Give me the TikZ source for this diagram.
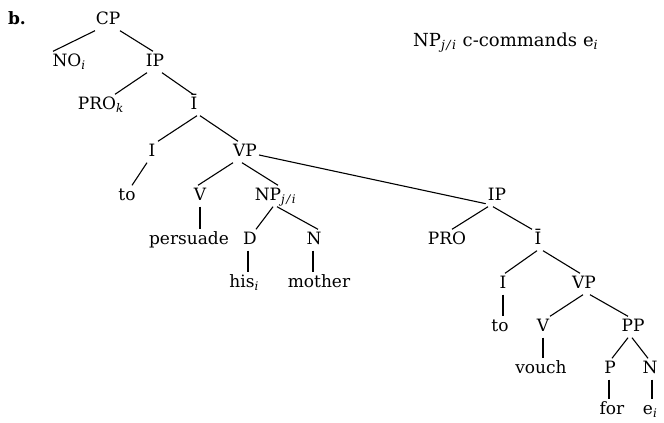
\documentclass[tikz,border=0pt]{standalone}
\usepackage{fontspec}
\setmainfont{DejaVu Serif}
\newcommand\branch[4]{\draw[br] ([xshift=#2pt]#1.south) -- ([xshift=#4pt]#3.north);}
\newcommand\sbs[1]{\textsubscript{\textit{#1}}}
\newcommand\ji{\sbs{j\hspace{1.5pt}/\hspace{1.5pt}i}}
\begin{document}
\begin{tikzpicture}[x=1pt,y=-1pt,
  tn/.style={inner sep=2pt,text height=13pt,text depth=4pt,font=\fontsize{17}{20}\selectfont},
  br/.style={line width=1.1pt}]
\useasboundingbox (0,0) rectangle (664,423);
\node[tn,font=\fontsize{17}{20}\selectfont\bfseries] (lab) at (17,20) {b.};
\node[tn,anchor=west,font=\fontsize{18}{21}\selectfont] (title) at (411,42) {NP\ji\hspace{6pt}c-commands\hspace{6pt}e\sbs{i}};
% left tree
\node[tn] (cp) at (108,20) {CP};
\node[tn] (no) at (67,62) {NO\rlap{\sbs{i}}};
\node[tn] (ip) at (155,62) {IP};
\node[tn] (prok) at (97,105) {PRO\rlap{\sbs{k}}};
\node[tn] (ibar) at (194,105) {\=I};
\node[tn] (i1) at (152,152) {I};
\node[tn] (vp) at (245,152) {VP};
\node[tn] (to1) at (127,196) {to};
\node[tn] (v1) at (200,196) {V};
\node[tn] (np) at (268,196) {NP\rlap{\ji}};
\node[tn] (persuade) at (189,240) {persuade};
\node[tn] (d) at (250,240) {D};
\node[tn] (n1) at (314,240) {N};
\node[tn] (his) at (242,283) {his\rlap{\sbs{i}}};
\node[tn] (mother) at (319,283) {mother};
% right tree
\node[tn] (ip2) at (497,196) {IP};
\node[tn] (pro) at (447,240) {PRO};
\node[tn] (ibar2) at (538,240) {\=I};
\node[tn] (i2) at (503,284) {I};
\node[tn] (vp2) at (584,284) {VP};
\node[tn] (to2) at (500,327) {to};
\node[tn] (v2) at (543,327) {V};
\node[tn] (pp) at (633,327) {PP};
\node[tn] (vouch) at (541,369) {vouch};
\node[tn] (p) at (610,369) {P};
\node[tn] (n2) at (650,369) {N};
\node[tn] (forw) at (612,410) {for};
\node[tn] (e) at (648,410) {e\rlap{\sbs{i}}};
% branches left
\branch{cp}{-13}{no}{-14}
\branch{cp}{12}{ip}{-2}
\branch{ip}{-8}{prok}{18}
\branch{ip}{7}{ibar}{-1}
\branch{ibar}{3}{i1}{6}
\branch{ibar}{6}{vp}{-7}
\branch{i1}{-5}{to1}{5}
\branch{vp}{-12}{v1}{-2}
\branch{vp}{-3}{np}{10}
\branch{np}{5}{d}{6}
\branch{np}{9}{n1}{4}
\branch{v1}{0}{persuade}{11}
\branch{d}{-2}{his}{6}
\branch{n1}{-1}{mother}{-6}
\draw[br] ([yshift=-3pt]vp.east) -- ([yshift=3pt]ip2.south west);
% branches right
\branch{ip2}{-9}{pro}{5}
\branch{ip2}{-4}{ibar2}{-6}
\branch{ibar2}{-1}{i2}{2}
\branch{ibar2}{5}{vp2}{-4}
\branch{i2}{0}{to2}{3}
\branch{vp2}{-1}{v2}{7}
\branch{vp2}{6}{pp}{-5}
\branch{v2}{0}{vouch}{2}
\branch{pp}{-5}{p}{2}
\branch{pp}{-1}{n2}{-2}
\branch{p}{-1}{forw}{-3}
\branch{n2}{2}{e}{4}
\end{tikzpicture}
\end{document}
